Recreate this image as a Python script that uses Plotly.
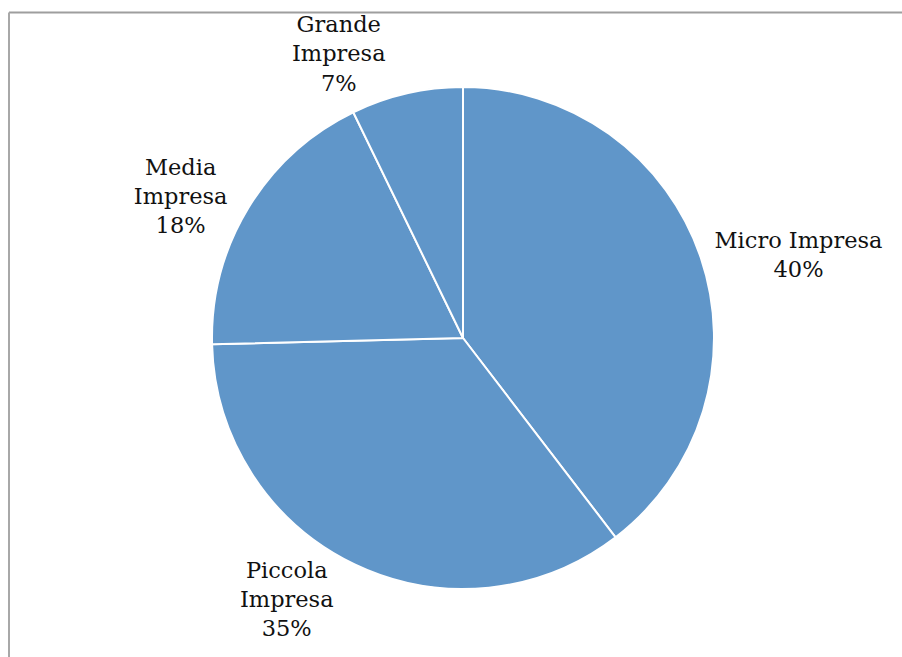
import plotly.graph_objects as go

categories = ["Micro Impresa", "Piccola Impresa", "Media Impresa", "Grande Impresa"]
values = [39.6, 35.0, 18.2, 7.2]
label_text = ["Micro Impresa", "Piccola<br>Impresa", "Media<br>Impresa", "Grande<br>Impresa"]

W, H = 902, 657
cx, cy, r = 463, 338, 251

fig = go.Figure(go.Pie(
    labels=categories,
    values=values,
    text=label_text,
    sort=False,
    direction="clockwise",
    rotation=0,
    marker=dict(colors=["#6096C9"] * 4, line=dict(color="white", width=2)),
    textinfo="text+percent",
    texttemplate="%{text}<br>%{percent:.0%}",
    textposition="outside",
    outsidetextfont=dict(family="DejaVu Serif", size=22.5, color="#111111"),
    hoverinfo="label+percent",
    showlegend=False,
    domain=dict(x=[(cx - r) / W, (cx + r) / W], y=[(H - cy - r) / H, (H - cy + r) / H]),
))

fig.update_layout(
    width=W, height=H,
    margin=dict(l=0, r=0, t=0, b=0),
    paper_bgcolor="white",
    plot_bgcolor="white",
    shapes=[
        dict(type="line", xref="paper", yref="paper", x0=9 / W, x1=1.0, y0=1 - 12.5 / H, y1=1 - 12.5 / H,
             line=dict(color="#9E9E9E", width=2)),
        dict(type="line", xref="paper", yref="paper", x0=9 / W, x1=9 / W, y0=0, y1=1 - 12.5 / H,
             line=dict(color="#A8A8A8", width=2)),
    ],
)

fig.write_html("out.html")
